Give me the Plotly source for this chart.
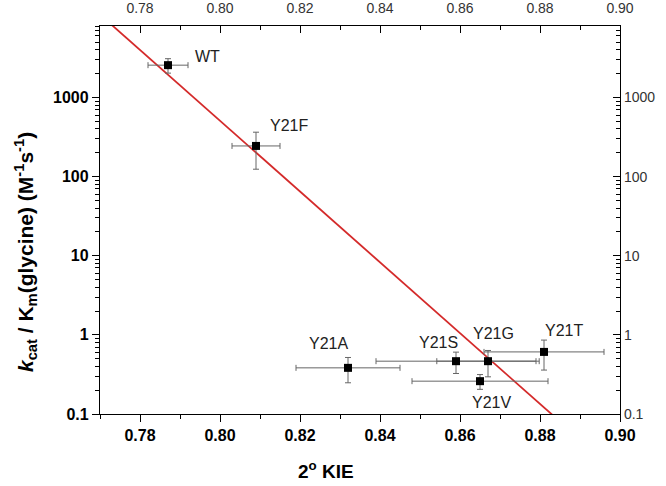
import plotly.graph_objects as go
import numpy as np

# ---- data ----
names = ["WT", "Y21F", "Y21A", "Y21S", "Y21G", "Y21T", "Y21V"]
kie = [0.787, 0.809, 0.832, 0.859, 0.867, 0.881, 0.865]
kie_err = [0.005, 0.006, 0.013, 0.020, 0.0128, 0.015, 0.017]
kcat_km = [2560, 244, 0.383, 0.465, 0.465, 0.609, 0.260]
kcat_km_err = [530, 120, 0.135, 0.14, 0.17, 0.25, 0.055]

# label offsets (px) relative to each point
label_dx = [39, 33, -20, -18, 5, 20, 11]
label_dy = [9, 20, 24, 19, 28, 21, -21]

# linear fit of log10(kcat/Km) vs KIE
fit_slope = -44.73
fit_intercept = 38.49
fit_x = [0.77, 0.885]

x_ticks = [0.78, 0.80, 0.82, 0.84, 0.86, 0.88, 0.90]
y_ticks = [0.1, 1, 10, 100, 1000]
y_ticktext = ["0.1", "1", "10", "100", "1000"]

xr = [0.77, 0.90]
yr = [-1, np.log10(8000)]

FONT = "Liberation Sans, Arial, sans-serif"

fig = go.Figure()

fit_y = [10 ** (fit_intercept + fit_slope * x) for x in fit_x]
fig.add_trace(go.Scatter(x=fit_x, y=fit_y, mode="lines",
                         line=dict(color="#d42a2a", width=1.8),
                         hoverinfo="skip", showlegend=False))

fig.add_trace(go.Scatter(
    x=kie, y=kcat_km, mode="markers",
    marker=dict(symbol="square", size=8, color="black"),
    error_x=dict(type="data", array=kie_err, color="#666666", thickness=1, width=3),
    error_y=dict(type="data", array=kcat_km_err, color="#666666", thickness=1, width=3),
    showlegend=False))

# invisible trace for secondary axes
fig.add_trace(go.Scatter(x=xr, y=[0.1, 8000], xaxis="x2", yaxis="y2",
                         mode="markers", marker=dict(opacity=0),
                         hoverinfo="skip", showlegend=False))

for n, x, y, dx, dy in zip(names, kie, kcat_km, label_dx, label_dy):
    fig.add_annotation(x=x, y=np.log10(y), text=n, showarrow=False,
                       xshift=dx, yshift=dy,
                       font=dict(family=FONT, size=16, color="#222"))

fig.add_annotation(xref="paper", yref="paper", x=(326 - 100) / 520, y=-(470 - 414) / 388,
                   xanchor="center", yanchor="middle",
                   text="<b>2<sup>o</sup> KIE</b>", showarrow=False,
                   font=dict(family=FONT, size=19, color="black"))
fig.add_annotation(xref="paper", yref="paper", x=-(100 - 26) / 520, y=(414 - 252) / 388,
                   xanchor="center", yanchor="middle",
                   text="<b><i>k</i><sub>cat</sub> / K<sub>m</sub>(glycine) (M<sup>-1</sup>s<sup>-1</sup>)</b>",
                   textangle=-90, showarrow=False,
                   font=dict(family=FONT, size=21, color="black"))

axis_common = dict(showline=True, linecolor="black", linewidth=1.3,
                   showgrid=False, zeroline=False, mirror=False, automargin=False)

fig.update_layout(
    width=666, height=486,
    margin=dict(l=100, r=46, t=26, b=72),
    plot_bgcolor="white", paper_bgcolor="white",
    xaxis=dict(range=xr, tickvals=x_ticks, ticktext=[f"{v:.2f}" for v in x_ticks],
               ticks="outside", ticklen=7, tickwidth=1.3, tickcolor="black",
               minor=dict(dtick=0.01, tick0=0.77, ticks="outside", ticklen=4, tickcolor="black", tickwidth=1.2),
               tickfont=dict(family=FONT, size=16, color="black", weight="bold"),
               **axis_common),
    xaxis2=dict(range=xr, overlaying="x", side="top", anchor="y",
                tickvals=x_ticks, ticktext=[f"{v:.2f}" for v in x_ticks],
                ticks="inside", ticklen=7, tickwidth=1.3, tickcolor="black",
                minor=dict(dtick=0.01, tick0=0.77, ticks="inside", ticklen=4, tickcolor="black", tickwidth=1.2),
                tickfont=dict(family=FONT, size=14, color="#333"),
                ticklabelstandoff=6,
                **axis_common),
    yaxis=dict(type="log", range=yr, tickvals=y_ticks, ticktext=y_ticktext,
               ticks="outside", ticklen=7, tickwidth=1.3, tickcolor="black",
               minor=dict(dtick="D1", ticks="outside", ticklen=4, tickcolor="black", tickwidth=1.1),
               tickfont=dict(family=FONT, size=16, color="black", weight="bold"),
               **axis_common),
    yaxis2=dict(type="log", range=yr, overlaying="y", side="right", anchor="x",
                tickvals=y_ticks, ticktext=y_ticktext,
                ticks="inside", ticklen=7, tickwidth=1.3, tickcolor="black",
                minor=dict(dtick="D1", ticks="inside", ticklen=4, tickcolor="black", tickwidth=1.1),
                tickfont=dict(family=FONT, size=14, color="#333"),
                **axis_common),
)

fig.write_html("out.html", config={"displayModeBar": False},
               post_script="document.body.style.margin='0px';")
